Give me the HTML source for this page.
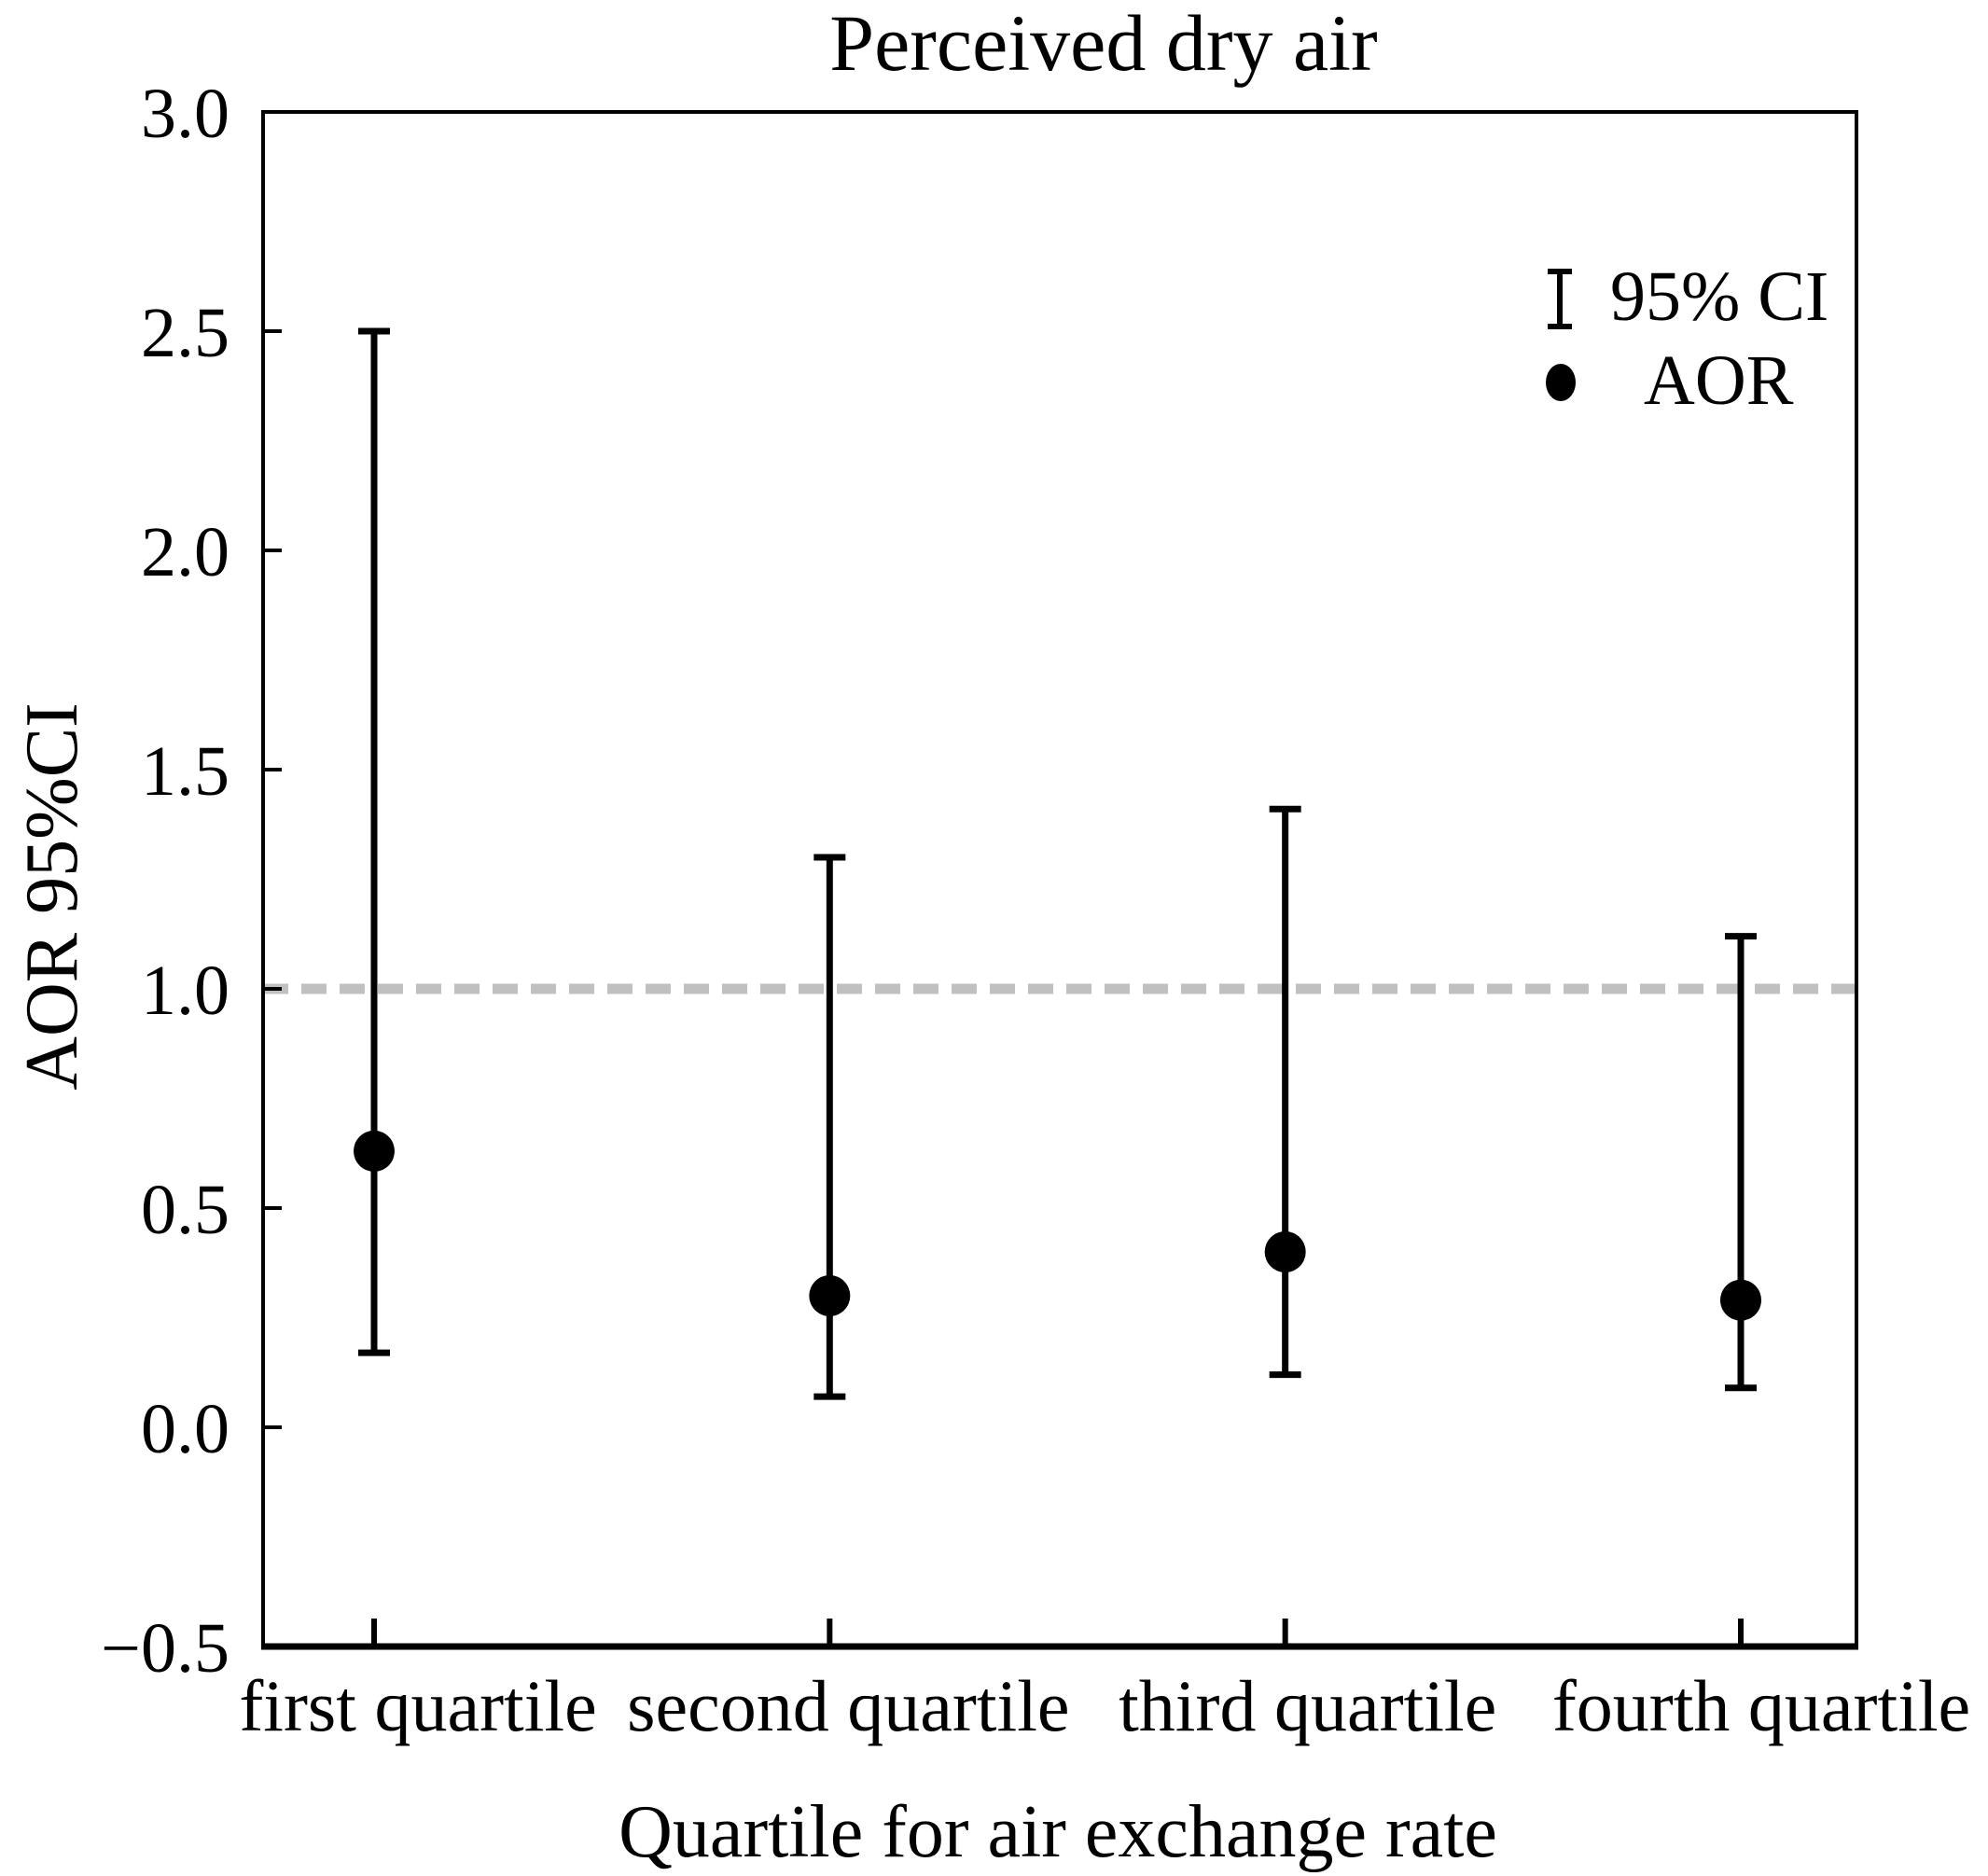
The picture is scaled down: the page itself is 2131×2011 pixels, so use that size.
<!DOCTYPE html>
<html><head><meta charset="utf-8"><style>
html,body{margin:0;padding:0;background:#fff;}
svg{display:block;}
text{font-family:"Liberation Serif","DejaVu Serif",serif;fill:#000;}
</style></head><body>
<svg id="chart" width="2131" height="2011" viewBox="0 0 2131 2011" xmlns="http://www.w3.org/2000/svg">
<text x="1183" y="75" font-size="86" text-anchor="middle">Perceived dry air</text>
<g id="axes"></g>
<g id="marks"></g>
<text x="0" y="0" font-size="80" text-anchor="middle" transform="translate(82,961) rotate(-90)">AOR 95%CI</text>
<text x="1134" y="1990" font-size="80" text-anchor="middle">Quartile for air exchange rate</text>
<g>
  <g>
    <line x1="1672" y1="291" x2="1672" y2="350" stroke="#000" stroke-width="6"/>
    <line x1="1659" y1="291" x2="1685" y2="291" stroke="#000" stroke-width="6"/>
    <line x1="1659" y1="350" x2="1685" y2="350" stroke="#000" stroke-width="6"/>
    <text x="1726" y="343" font-size="76">95% CI</text>
  </g>
  <g>
    <ellipse cx="1673" cy="410" rx="16" ry="20" fill="#000"/>
    <text x="1762" y="433" font-size="76">AOR</text>
  </g>
</g>
</svg>
<script>
const categories = ["first quartile","second quartile","third quartile","fourth quartile"];
const aorValues = [0.63, 0.30, 0.40, 0.29];
const ciLower = [0.17, 0.07, 0.12, 0.09];
const ciUpper = [2.50, 1.30, 1.41, 1.12];
const yTicks = [-0.5, 0.0, 0.5, 1.0, 1.5, 2.0, 2.5, 3.0];
const yTickLabels = ["\u22120.5","0.0","0.5","1.0","1.5","2.0","2.5","3.0"];
const referenceValue = 1.0;

const NS = "http://www.w3.org/2000/svg";
const L = 282, R = 1990, T = 120, B = 1765;
const yMin = -0.5, yMax = 3.0;
function yScale(v){ return B - (v - yMin) / (yMax - yMin) * (B - T); }
function xScale(i){ return 401 + i * (1866 - 401) / (categories.length - 1); }
const labelOffsets = [47, 20, 24, 22];
function mk(tag, attrs, parent){ const e=document.createElementNS(NS,tag); for(const k in attrs) e.setAttribute(k, attrs[k]); parent.appendChild(e); return e; }

const axes = document.getElementById('axes');
const marks = document.getElementById('marks');

const ref = mk('line', {x1:L, x2:R, y1:yScale(referenceValue), y2:yScale(referenceValue), stroke:'#c0c0c0', 'stroke-width':11, 'stroke-dasharray':'27 14'}, axes);



const frame = mk('rect', {x:L, y:T, width:R-L, height:B-T, fill:'none', stroke:'#000', 'stroke-width':4}, axes);


const bottom = mk('line', {x1:L-2, x2:R+2, y1:B, y2:B, stroke:'#000', 'stroke-width':7}, axes);



yTicks.forEach((v, i) => {
  const y = yScale(v);
  const t = mk('line', {x1:L, x2:L+20, y1:y, y2:y, stroke:'#000', 'stroke-width':4}, axes);
  
  
  const lb = mk('text', {x:246, y:y+27, 'font-size':76, 'text-anchor':'end'}, axes);
  lb.textContent = yTickLabels[i];
  
  
});

categories.forEach((c, i) => {
  const x = xScale(i);
  const t = mk('line', {x1:x, x2:x, y1:B, y2:B-30, stroke:'#000', 'stroke-width':6}, axes);
  
  
  const lb = mk('text', {x:x+labelOffsets[i], y:1855, 'font-size':78, 'text-anchor':'middle'}, axes);
  lb.textContent = c;
  
  

  const g = mk('g', {}, marks);
  
  
  mk('line', {x1:x, x2:x, y1:yScale(ciLower[i]), y2:yScale(ciUpper[i]), stroke:'#000', 'stroke-width':7}, g);
  mk('line', {x1:x-17, x2:x+17, y1:yScale(ciUpper[i]), y2:yScale(ciUpper[i]), stroke:'#000', 'stroke-width':7}, g);
  mk('line', {x1:x-17, x2:x+17, y1:yScale(ciLower[i]), y2:yScale(ciLower[i]), stroke:'#000', 'stroke-width':7}, g);
  const p = mk('circle', {cx:x, cy:yScale(aorValues[i]), r:22, fill:'#000'}, marks);
  
  
});
</script>
</body></html>
